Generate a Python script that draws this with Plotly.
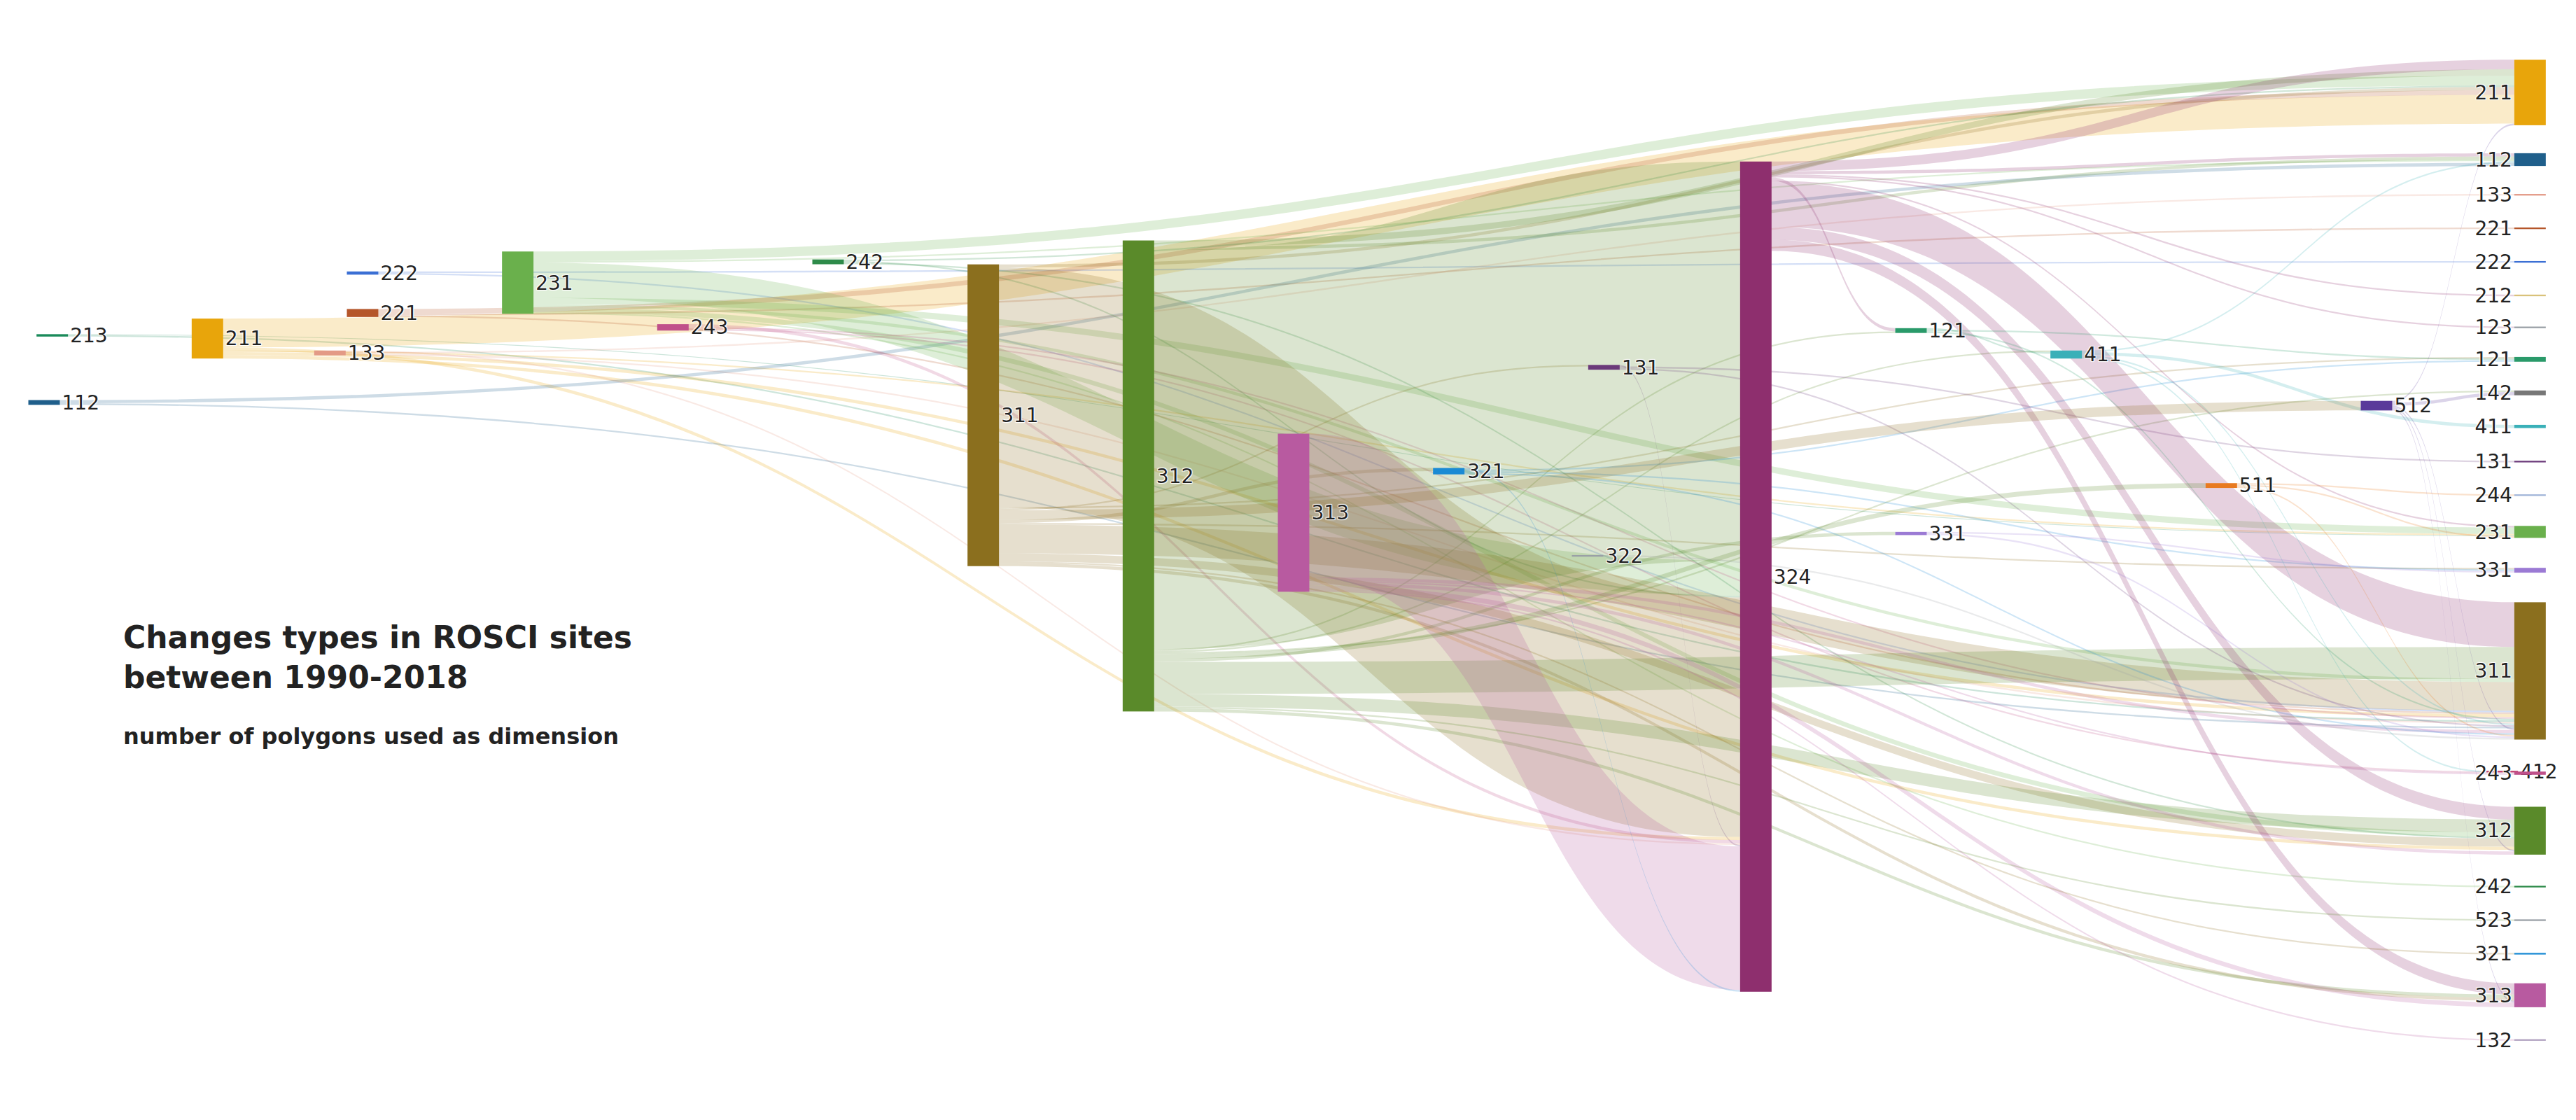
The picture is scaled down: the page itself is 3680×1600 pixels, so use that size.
import plotly.graph_objects as go

# Node definitions
node_ids = ["213","211L","222","221","133L","112L","231","243","242","311","312","313",
            "321","131","322","324","121","331","411","511","512",
            "211R","112R","133R","221R","222R","212R","123R","121R","142R","411R","131R",
            "244R","231R","331R","311R","412R","243R","312R","242R","523R","321R","313R","132R"]
node_labels = [n.rstrip("LR") for n in node_ids]
node_x_px = [20,115,210,210,190,15,305,400,495,590,685,780,875,970,960,1063,1158,1158,1253,1348,1443,
             1537,1537,1537,1537,1537,1537,1537,1537,1537,1537,1537,1537,1537,1537,1537,1520,1537,1537,1537,1537,1537,1537,1537]
node_y_px = [202,204,163,188,213,244,169,197,156,252,290,313,287,222,340,353,199,326,214,296,246,
             50,92,114,135,156,177,197,217,238,259,281,302,325,349,412,475,476,512,547,568,589,615,643]
class_colors = {"213":"#1a8a5a","211":"#e8a50b","222":"#3b6fd4","221":"#b5562a","133":"#e39a86",
                "112":"#1f5f8b","231":"#6ab04c","243":"#c0508a","242":"#2e8b4a","311":"#8b6f1e",
                "312":"#5a8a2a","313":"#b85aa0","321":"#1a8ad4","131":"#6b3a7a","322":"#9aa0a6",
                "324":"#8e2f6e","121":"#2a9a6a","331":"#9b7ad4","411":"#3ab0b8","511":"#e87a20",
                "512":"#5a3a9a","412":"#c04070","212":"#d9c27a","123":"#9aa0a6","142":"#777777",
                "244":"#a0b4d8","523":"#9aa0a6","132":"#b0a0c0"}

links = [
    ("213","311R",1),("213","231R",0.5),
    ("211L","211R",18),("211L","312R",2),("211L","311R",2),("211L","324",2),("211L","231R",1),
    ("222","311R",1),("222","222R",1),
    ("221","211R",3),("221","221R",1),("221","311R",1),
    ("133L","133R",1),("133L","324",1),("133L","311R",1),
    ("112L","112R",2),("112L","311R",1),
    ("231","324",22),("231","211R",6),("231","231R",4),("231","312R",3),("231","311R",2),("231","242R",1),("231","112R",1),
    ("243","324",2),("243","243R",1),("243","311R",1),
    ("242","312R",1),("242","211R",1),("242","324",1),
    ("311","324",150),("311","311R",18),("311","312R",5),("311","313R",2),("311","211R",2),("311","321",2),
    ("311","121R",1),("311","331R",1),("311","131",1),
    ("312","324",250),("312","312R",8),("312","311R",20),("312","211R",4),("312","112R",2),("312","331",2),
    ("312","313R",2),("312","121",1),("312","411",1),("312","142R",1),
    ("313","324",90),("313","313R",3),("313","311R",2),("313","312R",2),("313","243R",1),
    ("321","331R",1),("321","311R",1),("321","324",1),("321","121R",1),
    ("131","131R",1),("131","311R",1),("131","324",1),
    ("322","311R",1),
    ("324","311R",28),("324","312R",8),("324","313R",7),("324","211R",6),("324","112R",2),("324","231R",1),("324","121",2),
    ("121","121R",1),("121","411",1),("121","311R",1),
    ("331","331R",1),("331","311R",1),
    ("411","411R",2),("411","112R",1),("411","311R",1),("411","412R",1),
    ("511","231R",1),("511","244R",1),("511","311R",1),
    ("512","142R",2),("512","211R",1),("512","311R",1),("512","312R",1),("512","313R",1),
    ("324","212R",1),("324","123R",1),("312","523R",1),("311","321R",1),("313","132R",1),("312","511",3),("311","512",6),
]

W, H = 1560, 690
idx = {n: i for i, n in enumerate(node_ids)}

def rgba(hexc, a):
    h = hexc.lstrip("#")
    return f"rgba({int(h[0:2],16)},{int(h[2:4],16)},{int(h[4:6],16)},{a})"

node_cols = [class_colors[l] for l in node_labels]
fig = go.Figure(go.Sankey(
    arrangement="fixed",
    node=dict(label=node_labels, color=node_cols, thickness=45, pad=4,
              line=dict(width=0),
              x=[min(max(x / W, 0.001), 0.999) for x in node_x_px],
              y=[min(max(y / H, 0.001), 0.999) for y in node_y_px]),
    link=dict(source=[idx[s] for s, t, v in links], target=[idx[t] for s, t, v in links],
              value=[v for s, t, v in links],
              color=[rgba(class_colors[s.rstrip("LR")], 0.22) for s, t, v in links]),
    textfont=dict(family="DejaVu Sans", size=28, color="#222"),
))
fig.add_annotation(x=0.04, y=0.38, xref="paper", yref="paper", xanchor="left", yanchor="bottom",
                   align="left", showarrow=False,
                   text="<b>Changes types in ROSCI sites<br>between 1990-2018</b>",
                   font=dict(family="DejaVu Sans", size=44, color="#222"))
fig.add_annotation(x=0.04, y=0.33, xref="paper", yref="paper", xanchor="left", yanchor="bottom",
                   showarrow=False, text="<b>number of polygons used as dimension</b>",
                   font=dict(family="DejaVu Sans", size=32, color="#222"))
fig.update_layout(width=3680, height=1600, margin=dict(l=20, r=20, t=10, b=15),
                  paper_bgcolor="white", plot_bgcolor="white")
fig.write_html("out.html")
